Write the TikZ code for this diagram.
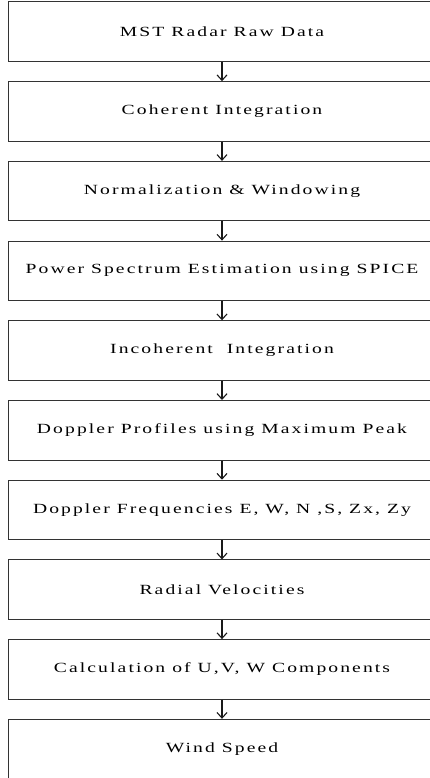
\documentclass[tikz,border=0pt]{standalone}
\usepackage{fontspec}
\setmainfont{Liberation Serif}[FakeStretch=1.4, LetterSpace=15]
\usetikzlibrary{arrows.meta}
\tikzset{
  stepbox/.style={draw=black!80, line width=1pt, minimum width=428pt, minimum height=59.5pt, inner sep=0pt, anchor=north, font=\fontsize{14}{16}\selectfont},
  flow/.style={draw=black!90, line width=1.1pt, -{Straight Barb[length=5.5pt,width=10pt,line width=1.1pt]}}
}
\begin{document}
\begin{tikzpicture}[x=1pt,y=1pt]
\useasboundingbox (0,0) rectangle (430,-778);
\node[stepbox] (b1) at (222,-1.5) {MST Radar Raw Data};
\node[stepbox] (b2) at (222,-81.2) {Coherent Integration};
\node[stepbox] (b3) at (222,-160.9) {Normalization \& Windowing};
\node[stepbox] (b4) at (222,-240.6) {Power Spectrum Estimation using SPICE};
\node[stepbox] (b5) at (222,-320.3) {Incoherent\ \ Integration};
\node[stepbox] (b6) at (222,-400.0) {Doppler Profiles using Maximum Peak};
\node[stepbox] (b7) at (222,-479.7) {Doppler Frequencies E, W, N ,S, Zx, Zy};
\node[stepbox] (b8) at (222,-559.4) {Radial Velocities};
\node[stepbox] (b9) at (222,-639.1) {Calculation of U,V, W Components};
\node[stepbox] (b10) at (222,-718.8) {Wind Speed};
\foreach \a/\b in {b1/b2,b2/b3,b3/b4,b4/b5,b5/b6,b6/b7,b7/b8,b8/b9,b9/b10}
  \draw[flow] (\a.south) -- (\b.north);
\end{tikzpicture}
\end{document}
